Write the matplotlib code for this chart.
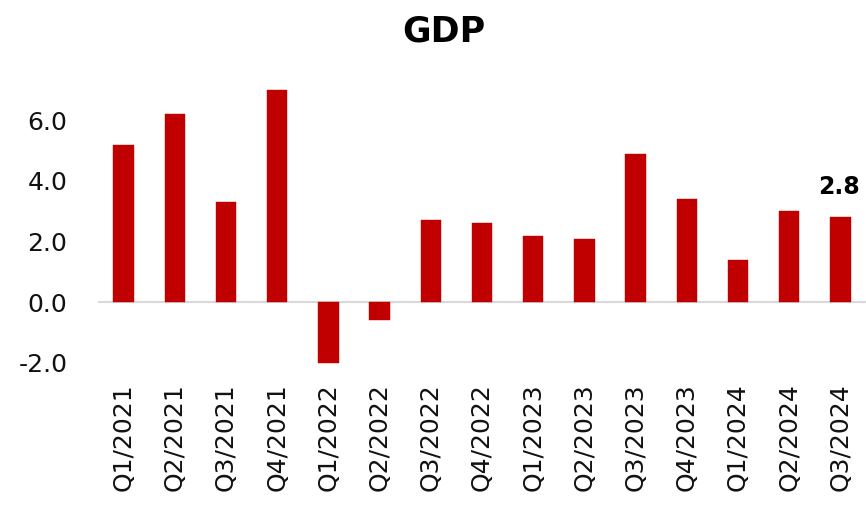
import matplotlib
matplotlib.use("Agg")
import matplotlib.pyplot as plt

categories = ["Q1/2021", "Q2/2021", "Q3/2021", "Q4/2021", "Q1/2022", "Q2/2022",
              "Q3/2022", "Q4/2022", "Q1/2023", "Q2/2023", "Q3/2023", "Q4/2023",
              "Q1/2024", "Q2/2024", "Q3/2024"]
gdp = [5.2, 6.2, 3.3, 7.0, -2.0, -0.6, 2.7, 2.6, 2.2, 2.1, 4.9, 3.4, 1.4, 3.0, 2.8]
yticks = [-2.0, 0.0, 2.0, 4.0, 6.0]
title = "GDP"

plt.rcParams['font.family'] = ['DejaVu Sans']

fig = plt.figure(figsize=(8.66, 5.17), dpi=100)
ax = fig.add_axes([98/866, 1 - 369/517, 1 - 98/866, (369 - 74.8)/517])

x = list(range(len(categories)))
ax.bar(x, gdp, width=0.4, color="#C00000", edgecolor="#C00000", linewidth=0.3, zorder=2)
ax.axhline(0, color="#D9D9D9", linewidth=1.5, zorder=1)

ax.set_xlim(-0.5, len(categories) - 0.5)
ax.set_ylim(-2.2, 7.5)
ax.set_yticks(yticks)
ax.set_yticklabels([f"{v:.1f}" for v in yticks])
ax.set_xticks(x)
ax.set_xticklabels(categories, rotation=90)

ax.tick_params(axis='y', length=0, pad=22, labelsize=18, labelcolor="#111111")
ax.tick_params(axis='x', length=0, pad=10, labelsize=18, labelcolor="#111111")
for s in ax.spines.values():
    s.set_visible(False)

ax.annotate(f"{gdp[-1]:.1f}", xy=(x[-1], gdp[-1]), xytext=(-1, 13),
            textcoords="offset points", ha="center", va="bottom",
            fontsize=17, fontweight="bold", color="black")

fig.text(444/866, 1 - 31/517, title, ha="center", va="center",
         fontsize=25, fontweight="bold", color="black")

fig.savefig("out.png", dpi=100)
